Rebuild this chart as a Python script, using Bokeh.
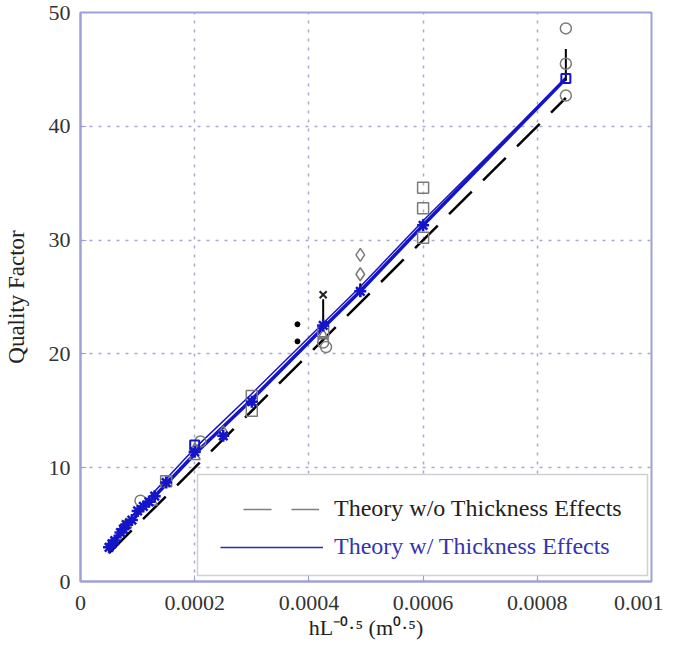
from bokeh.plotting import figure
from bokeh.models import Range1d, FixedTicker, BoxAnnotation, Legend, LegendItem
from bokeh.embed import file_html
from bokeh.resources import INLINE

# ---------------- data ----------------
x_ticks = [0, 0.0002, 0.0004, 0.0006, 0.0008, 0.001]
x_tick_labels = ["0", "0.0002", "0.0004", "0.0006", "0.0008", "0.001"]
y_ticks = [0, 10, 20, 30, 40, 50]

theory_wo_x = [0.00005, 0.00085]
theory_wo_y = [2.5, 42.5]

theory_w_x = [0.00005, 0.0001, 0.0002, 0.0003, 0.000425, 0.00049, 0.0006, 0.00085]
theory_w_y = [3.0, 5.9, 11.2, 16.0, 22.3, 25.5, 31.3, 44.2]
theory_w2_y = [3.3, 6.3, 11.7, 16.5, 22.7, 25.9, 31.7, 44.2]

circ_x = [0.000105, 0.00021, 0.000425, 0.00043, 0.00085, 0.00085, 0.00085]
circ_y = [7.1, 12.3, 21.0, 20.6, 48.6, 45.5, 42.7]

sq_x = [0.00015, 0.0003, 0.0003, 0.000425, 0.0006, 0.0006, 0.0006]
sq_y = [8.8, 15.0, 16.3, 22.0, 34.6, 32.8, 30.2]

dia_x = [0.00025, 0.00049, 0.00049]
dia_y = [13.1, 28.7, 27.0]

tri_x = [0.00008, 0.000125, 0.0002, 0.0002, 0.000425]
tri_y = [5.0, 7.0, 11.0, 11.6, 21.6]

blue_x = [0.00005, 0.000055, 0.00006, 0.00007, 0.000075, 0.00008, 0.00009, 0.0001,
          0.00011, 0.00012, 0.00013, 0.00015, 0.0002, 0.00025, 0.0003, 0.000425,
          0.00049, 0.0006]
blue_y = [3.0, 3.3, 3.6, 4.3, 4.6, 5.0, 5.4, 6.2, 6.6, 7.0, 7.5, 8.7, 11.4, 12.8,
          15.8, 22.5, 25.5, 31.3]

blue_sq_x = [0.0002, 0.00085]
blue_sq_y = [12.0, 44.2]

xmark_x = [0.000425]
xmark_y = [25.2]

dot_x = [0.00038, 0.00038]
dot_y = [22.6, 21.1]

eb_x = [0.00085, 0.000425, 0.00049]
eb_lo = [44.0, 22.4, 25.0]
eb_hi = [46.8, 24.8, 26.2]

legend_labels = ["Theory w/o Thickness Effects", "Theory w/ Thickness Effects"]
x_label = "hL\u207b\u2070\u00b7\u2075 (m\u2070\u00b7\u2075)"
y_label = "Quality Factor"

# ---------------- figure ----------------
FRAME = "#a0a0d8"
GREY = "#7a7a7a"
BLUE = "#1414c8"

p = figure(width=663, height=650, output_backend="svg", toolbar_location=None,
           x_range=Range1d(0, 0.001), y_range=Range1d(0, 50),
           min_border_left=77, min_border_right=12, min_border_top=12, min_border_bottom=69)
p.background_fill_color = "white"
p.border_fill_color = "white"
p.outline_line_color = FRAME
p.outline_line_width = 2

for ax in (p.xaxis[0], p.yaxis[0]):
    ax.axis_line_color = FRAME
    ax.axis_line_width = 2
    ax.major_tick_line_color = FRAME
    ax.major_tick_in = 6
    ax.major_tick_out = 0
    ax.minor_tick_line_color = None
    ax.major_label_text_font = "Liberation Serif"
    ax.major_label_text_font_size = "22px"
    ax.major_label_text_color = "#333333"
    ax.axis_label_text_font = "Liberation Serif"
    ax.axis_label_text_font_style = "normal"
    ax.axis_label_text_color = "#222222"

p.xaxis.major_label_standoff = 14
p.yaxis.major_label_standoff = 10
p.xaxis.ticker = FixedTicker(ticks=x_ticks)
p.xaxis.major_label_overrides = {t: s for t, s in zip(x_ticks, x_tick_labels)}
p.yaxis.ticker = FixedTicker(ticks=y_ticks)

p.yaxis.axis_label = y_label
p.yaxis.axis_label_text_font_size = "23px"
p.yaxis.axis_label_standoff = 17

p.xaxis.axis_label = x_label
p.xaxis.axis_label_text_font_size = "22px"
p.xaxis.axis_label_standoff = 2

p.xgrid.ticker = FixedTicker(ticks=x_ticks)
p.ygrid.ticker = FixedTicker(ticks=y_ticks)
for g in (p.xgrid[0], p.ygrid[0]):
    g.grid_line_color = "#a8a8d8"
    g.grid_line_dash = "3 6"
    g.grid_line_width = 1.5

# theory lines
p.line(theory_wo_x, theory_wo_y, line_color="black", line_width=2.5, line_dash="32 16")
p.line(theory_w_x, theory_w2_y, line_color=BLUE, line_width=1.5)
p.line(theory_w_x, theory_w_y, line_color=BLUE, line_width=3.5)

# data markers
p.segment(eb_x, eb_lo, eb_x, eb_hi, line_color="black", line_width=2)
p.scatter(circ_x, circ_y, marker="circle", size=11, fill_color=None, line_color=GREY, line_width=1.5)
p.scatter(sq_x, sq_y, marker="square", size=11, fill_color=None, line_color=GREY, line_width=1.5)
p.scatter(dia_x, dia_y, marker="diamond", size=13, fill_color=None, line_color=GREY, line_width=1.5)
p.scatter(tri_x, tri_y, marker="triangle", size=11, fill_color=None, line_color=GREY, line_width=1.5)
p.scatter(blue_x, blue_y, marker="asterisk", size=12, line_color=BLUE, line_width=2.5)
p.scatter(blue_sq_x, blue_sq_y, marker="square", size=9, fill_color=None, line_color=BLUE, line_width=2)
p.scatter(xmark_x, xmark_y, marker="x", size=10, line_color="#222222", line_width=2)
p.scatter(dot_x, dot_y, marker="circle", size=5, fill_color="black", line_color="black")

# legend box
box = BoxAnnotation(left=117, right=567, bottom=6, top=107,
                    left_units="screen", right_units="screen",
                    bottom_units="screen", top_units="screen",
                    fill_color="white", fill_alpha=1.0,
                    line_color="#666666", line_width=1.5)
p.add_layout(box)

nan = float("nan")
leg_dash = p.line(x=[nan], y=[nan], line_color="#808080", line_width=1.5, line_dash="28 20")
leg_solid = p.line(x=[nan], y=[nan], line_color="#2a2ab8", line_width=1.5)

common = dict(glyph_height=24, label_height=24, padding=0, margin=0, spacing=0,
              background_fill_alpha=0, border_line_alpha=0,
              label_text_font="Liberation Serif", label_text_font_size="24px")
leg1 = Legend(items=[LegendItem(label=legend_labels[0], renderers=[leg_dash])],
              location=(163, 59), glyph_width=76, label_standoff=15,
              label_text_color="#222222", **common)
leg2 = Legend(items=[LegendItem(label=legend_labels[1], renderers=[leg_solid])],
              location=(140, 21), glyph_width=103, label_standoff=11,
              label_text_color="#3434b0", **common)
p.add_layout(leg1)
p.add_layout(leg2)

open("out.html", "w").write(file_html(p, INLINE))
